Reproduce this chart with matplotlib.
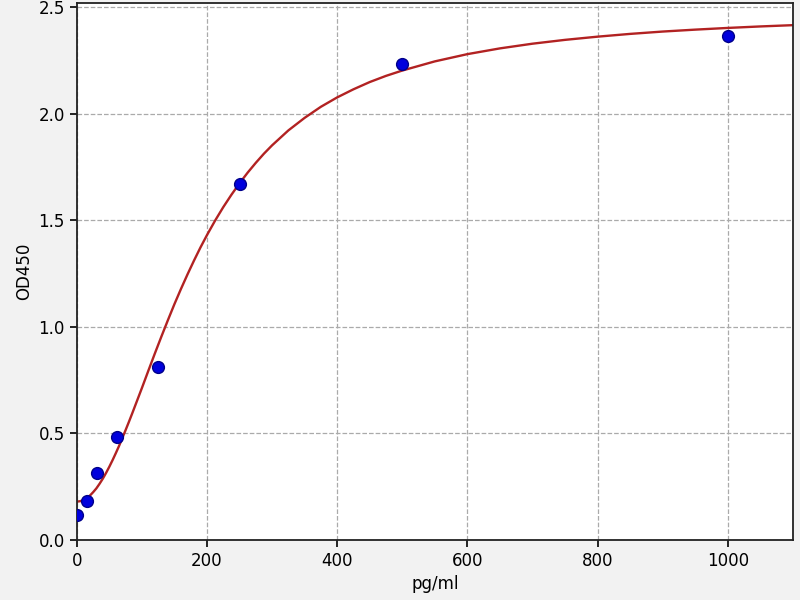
import matplotlib
matplotlib.use("Agg")
import matplotlib.pyplot as plt

# standard points (concentration, OD450)
conc = [0, 15.6, 31.25, 62.5, 125, 250, 500, 1000]
od = [0.115, 0.185, 0.314, 0.484, 0.811, 1.672, 2.235, 2.365]

# fitted curve
curve_x = [0, 5, 10, 15, 20, 25, 30, 35, 40, 45, 50, 55, 60, 65, 70, 75, 80,
           85, 90, 95, 100, 110, 120, 130, 140, 150, 160, 170, 180, 190, 200,
           212.5, 225, 237.5, 250, 262.5, 275, 287.5, 300, 325, 350, 375, 400,
           425, 450, 475, 500, 550, 600, 650, 700, 750, 800, 850, 900, 950,
           1000, 1050, 1100]
curve_y = [0.180, 0.182, 0.187, 0.196, 0.208, 0.224, 0.242, 0.264, 0.288,
           0.315, 0.344, 0.375, 0.408, 0.442, 0.479, 0.516, 0.554, 0.593,
           0.633, 0.673, 0.713, 0.795, 0.876, 0.955, 1.032, 1.107, 1.178,
           1.246, 1.311, 1.373, 1.431, 1.499, 1.562, 1.620, 1.674, 1.724,
           1.770, 1.813, 1.852, 1.922, 1.981, 2.033, 2.077, 2.115, 2.149,
           2.178, 2.203, 2.246, 2.280, 2.307, 2.329, 2.347, 2.362, 2.375,
           2.386, 2.395, 2.403, 2.410, 2.416]

xticks = [0, 200, 400, 600, 800, 1000]
yticks = [0.0, 0.5, 1.0, 1.5, 2.0, 2.5]


def main():
    fig = plt.figure(figsize=(8, 6), dpi=100, facecolor='#f2f2f2')
    ax = fig.add_axes([0.096, 0.1, 0.895, 0.895])
    ax.set_facecolor('white')

    ax.plot(curve_x, curve_y, color='#b22222', linewidth=1.7, zorder=2)
    ax.plot(conc, od, 'o', color='#0000dd', markeredgecolor='#00008b',
            markersize=8.5, zorder=3)

    ax.set_xlim(0, 1100)
    ax.set_ylim(0, 2.52)
    ax.set_xticks(xticks)
    ax.set_yticks(yticks)
    ax.tick_params(labelsize=12, length=5, width=1.2)
    ax.grid(True, linestyle='--', color='#aaaaaa', linewidth=0.9)
    for s in ax.spines.values():
        s.set_linewidth(1.3)
        s.set_color('#222222')

    ax.set_xlabel('pg/ml', fontsize=12)
    ax.set_ylabel('OD450', fontsize=12)

    fig.savefig('out.png', dpi=100, facecolor=fig.get_facecolor())


if __name__ == "__main__":
    main()
